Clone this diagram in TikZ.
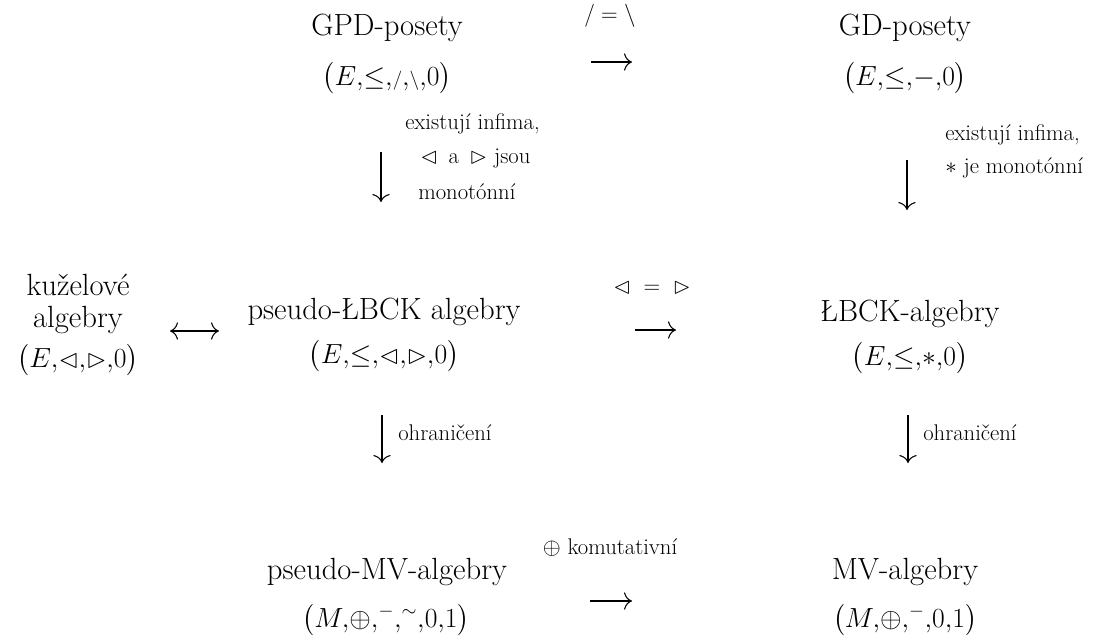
\documentclass[tikz,border=0pt]{standalone}
\usepackage{amssymb}
\usepackage{fontspec}
\usetikzlibrary{arrows.meta}
\newcommand{\tupl}[1]{\left(\vrule height 0.86em depth 0.36em width 0pt #1\right)}
\begin{document}
\begin{tikzpicture}[x=0.75pt,y=-0.75pt,
  main/.style={font=\fontsize{23}{27}\selectfont, inner sep=0pt},
  form/.style={font=\fontsize{19.5}{23}\selectfont, inner sep=0pt, text height=12pt, text depth=3pt},
  lab/.style={font=\fontsize{17}{20}\selectfont, inner sep=0pt},
  conn/.style={line width=0.8pt, -{To[length=6pt,width=13pt]}},
  biconn/.style={line width=0.8pt, {To[length=6pt,width=13pt]}-{To[length=6pt,width=13pt]}}]
\useasboundingbox (0,0) rectangle (1105,643);
% top row
\node[main] (gpd) at (387,28) {GPD-posety};
\node[form] (gpdf) at (387,79) {$\tupl{E,\!\leq,\!{\scriptstyle/},\!{\scriptstyle\backslash},\!0}$};
\node[main] (gd) at (905,28) {GD-posety};
\node[form] (gdf) at (905,79) {$\tupl{E,\!\leq,\!-,\!0}$};
\node[lab] (l1) at (610,16) {$/ = \backslash$};
\coordinate (a1s) at (591,62); \coordinate (a1e) at (632,62);
\draw[conn] (a1s) -- (a1e);
% down arrows top
\coordinate (d1s) at (381,152); \coordinate (d1e) at (381,202);
\draw[conn] (d1s) -- (d1e);
\node[lab,anchor=west] (l2a) at (405,124) {existují infima,};
\node[lab,anchor=west] (l2b) at (420,158) {$\lhd$\, a \,$\rhd$ jsou};
\node[lab,anchor=west] (l2c) at (418,192) {monotónní};
\coordinate (d2s) at (907,160); \coordinate (d2e) at (907,210);
\draw[conn] (d2s) -- (d2e);
\node[lab,anchor=west] (l3a) at (945,135) {existují infima,};
\node[lab,anchor=west] (l3b) at (945,168) {$*$ je monotónní};
% middle row
\node[main] (kuz1) at (78,285) {kuželové};
\node[main] (kuz2) at (78,320) {algebry};
\node[form] (kuzf) at (78,361) {$\tupl{E,\!\lhd,\!\rhd,\!0}$};
\coordinate (b1s) at (170,331); \coordinate (b1e) at (219,331);
\draw[biconn] (b1s) -- (b1e);
\node[main] (pl) at (384,312) {pseudo-ŁBCK algebry};
\node[form] (plf) at (384,357) {$\tupl{E,\!\leq,\!\lhd,\!\rhd,\!0}$};
\node[lab] (l4) at (652,288) {$\lhd\;=\;\rhd$};
\coordinate (a2s) at (635,330); \coordinate (a2e) at (676,330);
\draw[conn] (a2s) -- (a2e);
\node[main] (lb) at (910,314) {ŁBCK-algebry};
\node[form] (lbf) at (910,359) {$\tupl{E,\!\leq,\!*,\!0}$};
% down arrows bottom
\coordinate (d3s) at (382,415); \coordinate (d3e) at (382,463);
\draw[conn] (d3s) -- (d3e);
\node[lab,anchor=west] (l5) at (398,433) {ohraničení};
\coordinate (d4s) at (908,415); \coordinate (d4e) at (908,463);
\draw[conn] (d4s) -- (d4e);
\node[lab,anchor=west] (l6) at (923,433) {ohraničení};
% bottom row
\node[main] (pmv) at (387,572) {pseudo-MV-algebry};
\node[form] (pmvf) at (386,621) {$\tupl{M,\!\oplus,\!{}^{-},\!{}^{\sim},\!0,\!1}$};
\node[lab] (l7) at (610,548) {$\oplus$ komutativní};
\coordinate (a3s) at (590,601); \coordinate (a3e) at (632,601);
\draw[conn] (a3s) -- (a3e);
\node[main] (mv) at (905,572) {MV-algebry};
\node[form] (mvf) at (905,621) {$\tupl{M,\!\oplus,\!{}^{-},\!0,\!1}$};
\end{tikzpicture}
\end{document}
